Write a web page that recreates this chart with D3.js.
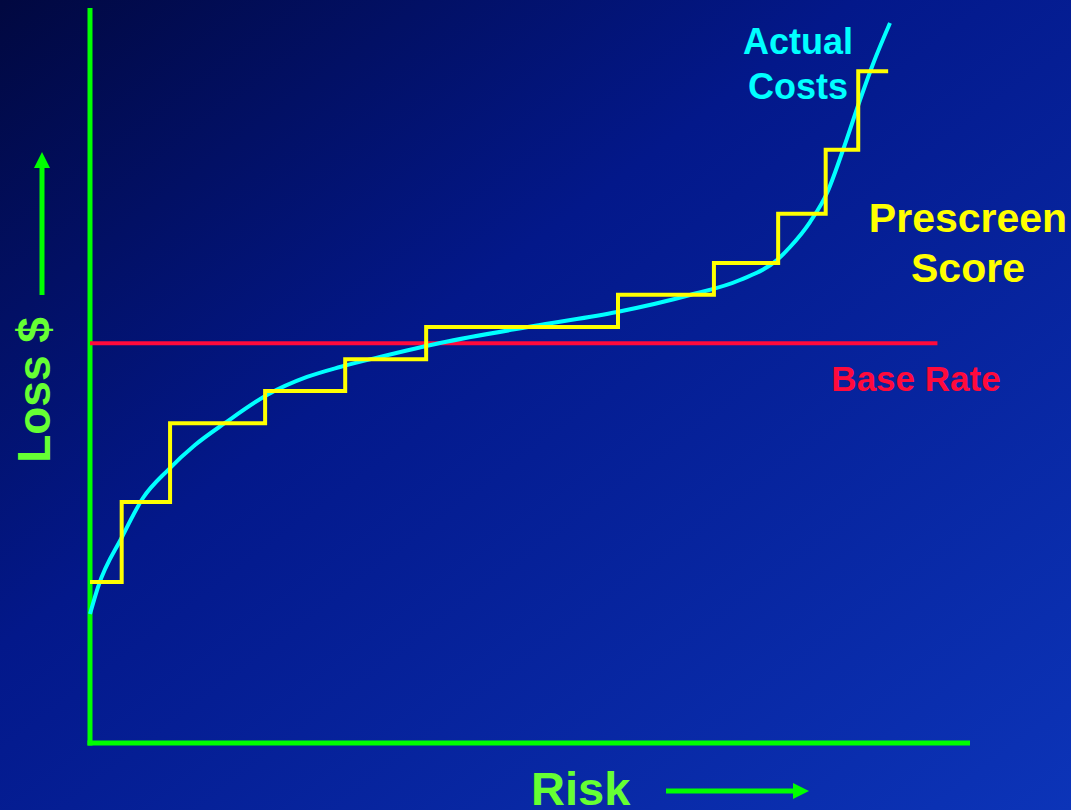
<!DOCTYPE html>
<html>
<head>
<meta charset="utf-8">
<script src="https://cdn.jsdelivr.net/npm/d3@7"></script>
<style>
  html, body { margin: 0; padding: 0; background: #020a4a; }
  svg { display: block; }
  text { font-family: "Liberation Sans", Arial, sans-serif; font-weight: bold; }
</style>
</head>
<body>
<svg id="chart" width="1071" height="810"></svg>
<script>
// ---- Data (risk on 0..100, loss on 0..100) ----
const costRisk  = [0, 0.91, 3.64, 6.02, 8.86, 11.93, 15.34, 20.11, 24.66, 28.41, 32.95, 39.77, 51.14, 59.89, 68.18, 73.86, 78.07, 79.55, 81.82, 83.75, 85.57, 87.5, 88.98, 90.91];
const costLoss  = [17.55, 21.22, 28.03, 33.33, 37.14, 40.54, 43.54, 47.35, 49.8, 51.16, 52.52, 54.42, 56.87, 58.64, 60.95, 62.99, 65.71, 67.48, 70.88, 74.83, 80.68, 87.48, 92.38, 97.96];
const stepBreaks = [0, 3.6, 9.1, 19.9, 29.0, 38.2, 60.0, 70.9, 78.2, 83.6, 87.3, 90.7];
const stepLevels = [21.9, 32.8, 43.5, 47.9, 52.2, 56.6, 61.0, 65.3, 72.0, 80.7, 91.4];
const baseRate = 54.4;
const baseRateExtent = [0, 96.3];
const labels = {
  actual: ["Actual", "Costs"],
  prescreen: ["Prescreen", "Score"],
  base: "Base Rate",
  yTitle: "Loss $",
  xTitle: "Risk"
};

const svg = d3.select("#chart");
const W = 1071, H = 810;

// background gradient
const defs = svg.append("defs");
const bg = defs.append("linearGradient").attr("id", "bg")
  .attr("x1", "0%").attr("y1", "0%").attr("x2", "100%").attr("y2", "100%");
bg.append("stop").attr("offset", "0%").attr("stop-color", "#010840");
bg.append("stop").attr("offset", "40%").attr("stop-color", "#03188a");
bg.append("stop").attr("offset", "100%").attr("stop-color", "#0c34b8");
svg.append("rect").attr("width", W).attr("height", H).attr("fill", "url(#bg)");

const x = d3.scaleLinear().domain([0, 100]).range([90, 970]);
const y = d3.scaleLinear().domain([0, 100]).range([743, 8]);

// axes (plain lines, no ticks)
svg.append("line").attr("x1", x(0)).attr("x2", x(0)).attr("y1", y(100)).attr("y2", y(0) + 2.5)
  .attr("stroke", "#00ff00").attr("stroke-width", 5);
svg.append("line").attr("x1", x(0) - 2.5).attr("x2", x(100)).attr("y1", y(0)).attr("y2", y(0))
  .attr("stroke", "#00ff00").attr("stroke-width", 5);

// base rate
svg.append("line")
  .attr("x1", x(baseRateExtent[0])).attr("x2", x(baseRateExtent[1]))
  .attr("y1", y(baseRate)).attr("y2", y(baseRate))
  .attr("stroke", "#ff0a3c").attr("stroke-width", 4);

// actual costs curve
const costPts = costRisk.map((r, i) => [r, costLoss[i]]);
svg.append("path").datum(costPts)
  .attr("d", d3.line().x(d => x(d[0])).y(d => y(d[1])).curve(d3.curveMonotoneX))
  .attr("fill", "none").attr("stroke", "#00ffff").attr("stroke-width", 4);

// prescreen score step
const stepPts = stepLevels.map((l, i) => [stepBreaks[i], l]);
stepPts.push([stepBreaks[stepBreaks.length - 1], stepLevels[stepLevels.length - 1]]);
svg.append("path").datum(stepPts)
  .attr("d", d3.line().x(d => x(d[0])).y(d => y(d[1])).curve(d3.curveStepAfter))
  .attr("fill", "none").attr("stroke", "#ffff00").attr("stroke-width", 4)
  .attr("stroke-linejoin", "miter");

// labels
const actual = svg.append("text").attr("fill", "#00ffff").attr("font-size", 36).attr("text-anchor", "middle");
actual.append("tspan").attr("x", 798).attr("y", 54).text(labels.actual[0]);
actual.append("tspan").attr("x", 798).attr("y", 99).text(labels.actual[1]);

const pre = svg.append("text").attr("fill", "#ffff00").attr("font-size", 41).attr("text-anchor", "middle");
pre.append("tspan").attr("x", 968).attr("y", 232).text(labels.prescreen[0]);
pre.append("tspan").attr("x", 968).attr("y", 282).text(labels.prescreen[1]);

svg.append("text").attr("fill", "#ff0a3c").attr("font-size", 35).attr("text-anchor", "middle")
  .attr("x", 916).attr("y", 391).text(labels.base);

svg.append("text").attr("fill", "#66ff33").attr("font-size", 46).attr("text-anchor", "middle")
  .attr("transform", "translate(50,390) rotate(-90)").text(labels.yTitle);

svg.append("text").attr("fill", "#66ff33").attr("font-size", 47).attr("text-anchor", "start")
  .attr("x", 531).attr("y", 805).text(labels.xTitle);

// arrows
defs.append("marker").attr("id", "arrow").attr("viewBox", "0 0 16 16")
  .attr("refX", 0).attr("refY", 8).attr("markerWidth", 16).attr("markerHeight", 16)
  .attr("markerUnits", "userSpaceOnUse").attr("orient", "auto")
  .append("path").attr("d", "M0,0 L16,8 L0,16 Z").attr("fill", "#00ff00");

svg.append("line").attr("x1", 42).attr("y1", 295).attr("x2", 42).attr("y2", 168)
  .attr("stroke", "#00ff00").attr("stroke-width", 5).attr("marker-end", "url(#arrow)");
svg.append("line").attr("x1", 666).attr("y1", 791).attr("x2", 793).attr("y2", 791)
  .attr("stroke", "#00ff00").attr("stroke-width", 5).attr("marker-end", "url(#arrow)");
</script>
</body>
</html>
